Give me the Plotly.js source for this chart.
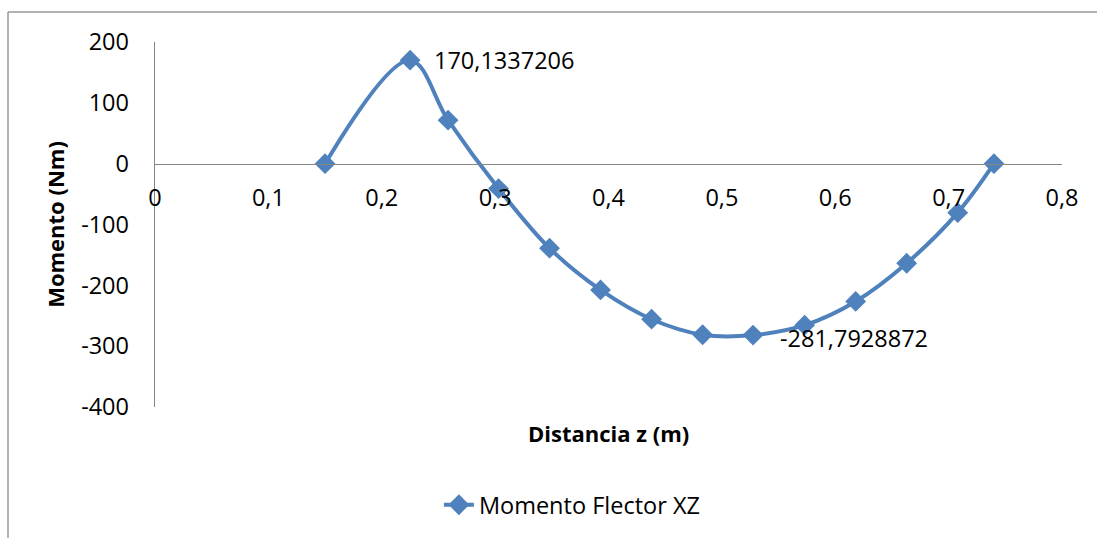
<!DOCTYPE html>
<html>
<head>
<meta charset="utf-8">
<script src="https://cdn.plot.ly/plotly-3.0.1.min.js"></script>
<style>
html,body{margin:0;padding:0;background:#fff;}
#chart{width:1097px;height:538px;}
</style>
</head>
<body>
<div id="chart"></div>
<script>
// Data
const distanciaZ = [0.15, 0.225, 0.2585, 0.303, 0.348, 0.393, 0.438, 0.483, 0.5275, 0.573, 0.618, 0.663, 0.708, 0.74];
const momentoXZ = [0, 170.1337206, 71.5, -41, -139, -207.5, -255.7, -281.2, -281.7928872, -265.5, -226.5, -163.7, -80.5, 0];
const seriesName = "Momento Flector XZ";
const xTickVals = [0, 0.1, 0.2, 0.3, 0.4, 0.5, 0.6, 0.7, 0.8];
const xTickText = ["0", "0,1", "0,2", "0,3", "0,4", "0,5", "0,6", "0,7", "0,8"];
const yTickVals = [200, 100, 0, -100, -200, -300, -400];
const yTickText = ["200", "100", "0", "-100", "-200", "-300", "-400"];

const FONT = "Open Sans, Liberation Sans, Arial, sans-serif";
const FS = 23.5;
const TFS = 22;
const BLUE = "#4F81BD";

const iMax = momentoXZ.indexOf(Math.max(...momentoXZ));
const iMin = momentoXZ.indexOf(Math.min(...momentoXZ));
const fmt = v => String(v).replace('.', ',');

const trace = {
  x: distanciaZ,
  y: momentoXZ,
  type: 'scatter',
  mode: 'lines+markers',
  name: seriesName,
  line: {color: BLUE, width: 4, shape: 'spline', smoothing: 1},
  marker: {symbol: 'diamond', size: 16, color: BLUE}
};

const layout = {
  width: 1097,
  height: 538,
  paper_bgcolor: '#ffffff',
  plot_bgcolor: '#ffffff',
  margin: {l: 155, r: 35, t: 42, b: 130},
  font: {family: FONT, size: FS, color: '#000'},
  showlegend: true,
  legend: {
    x: 0.313, y: -0.265, xanchor: 'left', yanchor: 'middle',
    orientation: 'h',
    font: {family: FONT, size: FS, color: '#000'}
  },
  xaxis: {
    range: [0, 0.8],
    tickvals: xTickVals,
    ticktext: xTickText,
    showgrid: false,
    zeroline: false,
    showline: true,
    linecolor: '#868686',
    linewidth: 1.3,
    ticks: '',
    anchor: 'free',
    position: 2/3,
    ticklabelstandoff: 13,
    tickfont: {family: FONT, size: FS, color: '#000'}
  },
  yaxis: {
    range: [-400, 200],
    tickvals: yTickVals,
    ticktext: yTickText,
    showgrid: false,
    zeroline: false,
    showline: true,
    linecolor: '#868686',
    linewidth: 1.3,
    ticks: '',
    ticklabelstandoff: 20,
    tickfont: {family: FONT, size: FS, color: '#000'},
    title: {text: '<b>Momento (Nm)</b>', font: {family: FONT, size: TFS, color: '#000'}, standoff: 10}
  },
  annotations: [
    {
      xref: 'paper', yref: 'paper', x: 0.5, y: -0.07, xanchor: 'center', yanchor: 'middle',
      text: '<b>Distancia z (m)</b>', showarrow: false,
      font: {family: FONT, size: TFS, color: '#000'}
    },
    {
      x: distanciaZ[iMax], y: momentoXZ[iMax], xref: 'x', yref: 'y',
      text: fmt(momentoXZ[iMax]), showarrow: false, xanchor: 'left', yanchor: 'middle',
      xshift: 22, font: {family: FONT, size: FS, color: '#000'}
    },
    {
      x: distanciaZ[iMin], y: momentoXZ[iMin], xref: 'x', yref: 'y',
      text: fmt(momentoXZ[iMin]), showarrow: false, xanchor: 'left', yanchor: 'middle',
      xshift: 25, yshift: -3, font: {family: FONT, size: FS, color: '#000'}
    }
  ],
  shapes: [
    {type: 'line', xref: 'paper', yref: 'paper', x0: (8-155)/907, x1: (8-155)/907, y0: (408-12)/366, y1: -0.5,
      line: {color: '#999999', width: 1.5}},
    {type: 'line', xref: 'paper', yref: 'paper', x0: (8-155)/907, x1: 1.2, y0: (408-12)/366, y1: (408-12)/366,
      line: {color: '#999999', width: 1.5}}
  ]
};

Plotly.newPlot('chart', [trace], layout, {displayModeBar: false, staticPlot: true});
</script>
</body>
</html>
